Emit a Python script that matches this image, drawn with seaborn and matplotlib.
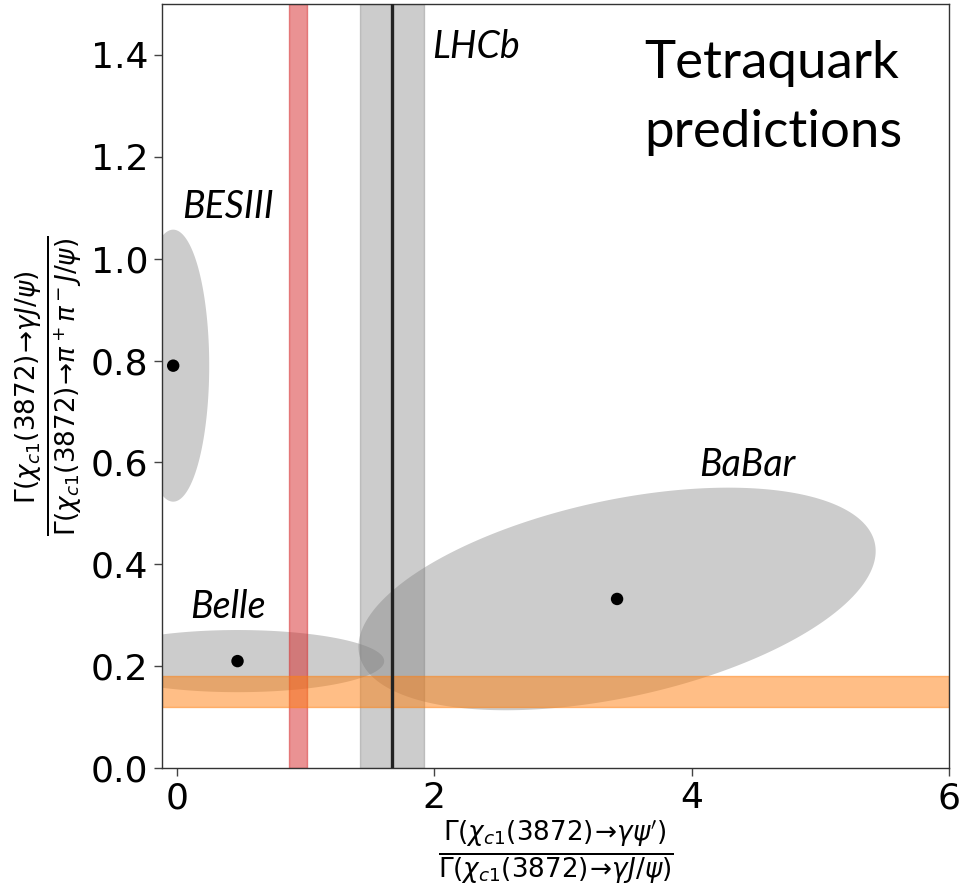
import numpy as np
import matplotlib
matplotlib.use("Agg")
import matplotlib.pyplot as plt
import seaborn as sns
import pandas as pd

# ---- data ----
experiments = ["BESIII", "Belle", "BaBar"]
ratio_psi2s = [-0.03, 0.47, 3.42]      # x central values
ratio_pipi = [0.79, 0.21, 0.332]       # y central values
sigma_x = [0.28, 1.14, 2.01]
sigma_y = [0.267, 0.061, 0.2185]
correlation = [0.0, 0.0, 0.43]

lhcb_value = 1.67
lhcb_error = 0.25
red_band = [0.87, 1.01]
orange_band = [0.12, 0.18]

x_ticks = [0, 2, 4, 6]
y_ticks = [0.0, 0.2, 0.4, 0.6, 0.8, 1.0, 1.2, 1.4]

sns.set_style("ticks")
plt.rcParams["font.family"] = ["DejaVu Sans"]
plt.rcParams["text.color"] = "black"
plt.rcParams["axes.labelcolor"] = "black"
plt.rcParams["xtick.color"] = "black"
plt.rcParams["ytick.color"] = "black"

fig = plt.figure(figsize=(9.62, 8.90), dpi=100)
ax = fig.add_axes([0.168, 0.137, 0.8185, 0.8585])

# ellipses
t = np.linspace(0, 2 * np.pi, 400)
for cx, cy, sx, sy, r in zip(ratio_psi2s, ratio_pipi, sigma_x, sigma_y, correlation):
    ex = cx + sx * np.cos(t)
    ey = cy + sy * (r * np.cos(t) + np.sqrt(1 - r ** 2) * np.sin(t))
    ax.fill(ex, ey, color="gray", alpha=0.4, lw=0, zorder=1)

# bands
ax.axvspan(red_band[0], red_band[1], color="tab:red", alpha=0.5, zorder=2)
ax.axvspan(lhcb_value - lhcb_error, lhcb_value + lhcb_error, color="gray", alpha=0.4, zorder=2)
ax.axhspan(orange_band[0], orange_band[1], color="tab:orange", alpha=0.5, zorder=2)
ax.axvline(lhcb_value, color="#222222", lw=2.4, zorder=3)

df = pd.DataFrame({"x": ratio_psi2s, "y": ratio_pipi, "exp": experiments})
sns.scatterplot(data=df, x="x", y="y", color="black", s=80, edgecolor="none", ax=ax, zorder=4, legend=False)

ax.set_xlim(-0.12, 6)
ax.set_ylim(0, 1.5)
ax.set_xticks(x_ticks)
ax.set_xticklabels([str(v) for v in x_ticks])
ax.set_yticks(y_ticks)
ax.set_yticklabels([f"{v:.1f}" for v in y_ticks])
ax.tick_params(labelsize=26, length=6, width=1, color="#444444")
for s in ax.spines.values():
    s.set_color("#333333")
    s.set_linewidth(1.0)

ax.set_xlabel(r"$\frac{\Gamma(\chi_{c1}(3872)\!\to\!\gamma\psi^{\prime})}{\Gamma(\chi_{c1}(3872)\!\to\!\gamma J/\psi)}$",
              fontsize=27, labelpad=2)
ax.set_ylabel(r"$\frac{\Gamma(\chi_{c1}(3872)\!\to\!\gamma J/\psi)}{\Gamma(\chi_{c1}(3872)\!\to\!\pi^+\pi^- J/\psi)}$",
              fontsize=27, labelpad=4)

lab = dict(family="Lato", style="italic", fontsize=27)
ax.text(1.98, 1.394, "LHCb", **lab)
ax.text(0.04, 1.08, "BESIII", **lab)
ax.text(0.10, 0.294, "Belle", **lab)
ax.text(4.06, 0.573, "BaBar", **lab)
ax.text(3.63, 1.43, "Tetraquark\npredictions", family="Lato", fontsize=38, linespacing=1.6, va="top")

fig.savefig("out.png", dpi=100)
